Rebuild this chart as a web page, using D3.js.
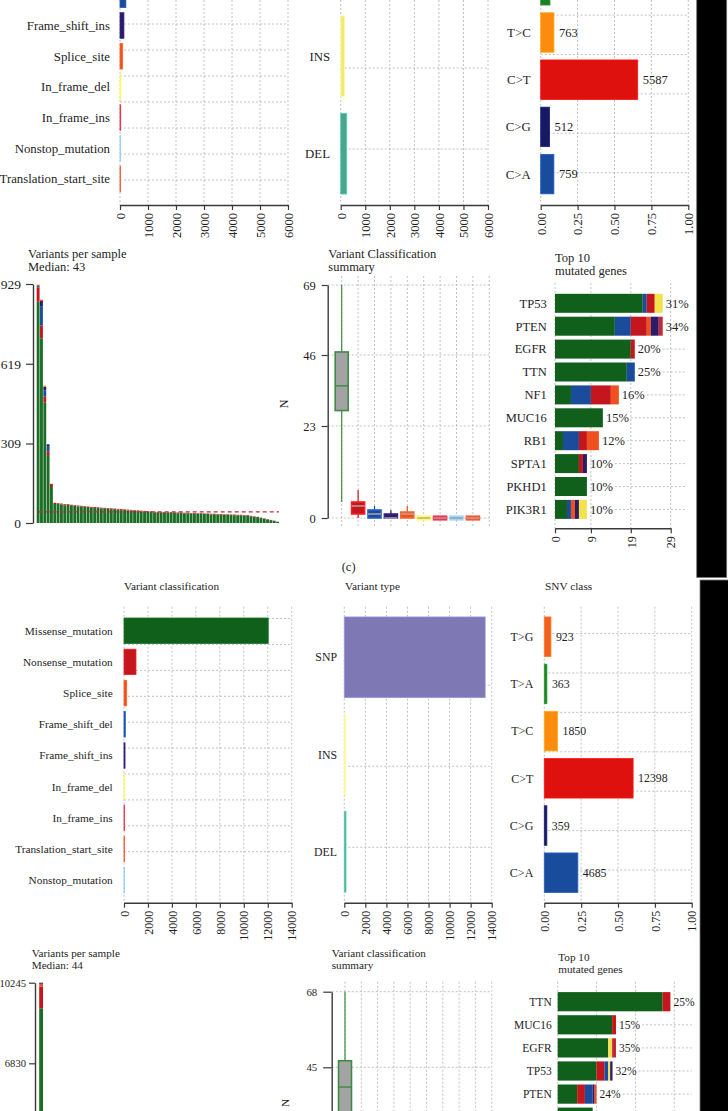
<!DOCTYPE html>
<html><head><meta charset="utf-8">
<script src="https://cdn.jsdelivr.net/npm/d3@7"></script>
<style>
html,body{margin:0;padding:0;background:#fff;}
svg{display:block;}
text{font-family:"Liberation Serif","Times New Roman",serif;fill:#1e1e1e;}
</style></head><body>
<svg id="c" width="728" height="1111"></svg>
<script>
// ================= DATA =================
// ---- upper cohort ----
const vcCats1 = ["Missense_mutation","Nonsense_mutation","Frame_shift_del","Frame_shift_ins","Splice_site","In_frame_del","In_frame_ins","Nonstop_mutation","Translation_start_site"];
const vcVals1 = [5600, 420, 210, 140, 95, 30, 25, 5, 8];
const vtCats = ["SNP","INS","DEL"];
const vtVals1 = [8460, 160, 245];
const snvCats = ["T>G","T>A","T>C","C>T","C>G","C>A"];
const snvVals1 = [344, 535, 763, 5587, 512, 759];
const axTicks6000 = [0,1000,2000,3000,4000,5000,6000];
const axTicksFrac = [0,0.25,0.5,0.75,1];

const vpsTicks1 = [0,309,619,929];
const vpsMedian1 = 43;
const vpsTotal1 = [929,868,536,306,152,79,77,76,74,73,71,70,68,67,66,64,63,62,61,60,59,58,57,56,55,54,53,52,51,50,49,48,47,46,45,44,43,43,43,42,42,42,41,41,40,40,39,39,38,38,37,37,36,36,35,35,34,34,33,33,32,32,31,31,28,26,24,21,18,15,12,9,5];
const vpsNonsense1 = [55,50,22,15,12,4,3,3,4,3,2,3,4,3,3,2,3,4,3,3,2,3,3,2,3,4,2,3,3,2,3,3,2,3,2,3,3,2,3,2,3,2,3,2,3,2,2,3,2,3,2,2,3,2,2,3,2,2,2,3,2,2,2,2,2,2,1,2,1,1,1,1,1];
const vpsFsDel1 = [6,75,25,20];
const vpsFsIns1 = [0,20,15,7];
const vpsSplice1 = [4,5,0,0,0,1,0,1,1,0,0,1,0,0,1,0,1,0,0,1];
const vpsIfDel1 = [4,0,5,0];

const boxCats = ["Missense_mutation","Nonsense_mutation","Frame_shift_del","Frame_shift_ins","Splice_site","In_frame_del","In_frame_ins","Nonstop_mutation","Translation_start_site"];
const boxTicks1 = [0,23,46,69];
const boxMin1 = [4,0,0,0,0,0,0,0,0];
const boxQ1_1 = [28,1,0,0,0,0,0,0,0];
const boxMed1 = [36,3,1,0,1,0,0,0,0];
const boxQ3_1 = [47,4,2,1,1.5,0,0,0,0];
const boxMax1 = [69,7,3,2,3,0,0,0,0];

const genes1 = ["TP53","PTEN","EGFR","TTN","NF1","MUC16","RB1","SPTA1","PKHD1","PIK3R1"];
const genePct1 = ["31%","34%","20%","25%","16%","15%","12%","10%","10%","10%"];
const geneMissense1 = [22,15,19,18,4,12,2,6,8,3];
const geneFsDel1    = [1,4,0,2,5,0,4,0,0,1];
const geneNonsense1 = [2,4,1,0,5,0,2,1,0,0];
const geneSplice1   = [0,1,0,0,2,0,3,0,0,1];
const geneFsIns1    = [0,2,0,0,0,0,0,1,0,1];
const geneIfIns1    = [0,1,0,0,0,0,0,0,0,0];
const geneIfDel1    = [2,0,0,0,0,0,0,0,0,2];
const geneTicks1 = [0,9,19,29];

// ---- lower cohort ----
const vcCats2 = ["Missense_mutation","Nonsense_mutation","Splice_site","Frame_shift_del","Frame_shift_ins","In_frame_del","In_frame_ins","Translation_start_site","Nonstop_mutation"];
const vcVals2 = [12040, 1000, 225, 110, 85, 25, 15, 10, 8];
const vtVals2 = [13380, 120, 160];
const snvVals2 = [923, 363, 1850, 12398, 359, 4685];
const axTicks14000 = [0,2000,4000,6000,8000,10000,12000,14000];

const vpsTicks2 = [0,3415,6830,10245];
const vpsMedian2 = 44;
const vpsTotal2 = [10245,4120,2950,1710,980,610,420,300,230,180,150,130,115,102,95,88,82,77,73,69,66,63,60,57,55,53,51,49,47,45,44,43,42,41,40,39,38,37,36,35,34,33,32,31,30,29,28,27,26,25,24,23,22,20,18,16,14,12,9,6];
const vpsNonsense2 = [915];
const vpsSplice2 = [125];
const vpsFsIns2 = [45];

const boxTicks2 = [0,22,45,68];
const boxMin2 = [3,0,0,0,0,0,0,0,0];
const boxQ1_2 = [27,1,0,0,0,0,0,0,0];
const boxMed2 = [39,2,1,0,0,0,0,0,0];
const boxQ3_2 = [47,4,2,1,1,0,0,0,0];
const boxMax2 = [68,8,4,2,2,0,0,0,0];

const genes2 = ["TTN","MUC16","EGFR","TP53","PTEN","NF1"];
const genePct2 = ["25%","15%","35%","32%","24%","22%"];
const geneMissense2 = [27,14,13,10,5,9];
const geneNonsense2 = [2,1,0,2,2,0];
const geneFsDel2    = [0,0,0,1,2,0];
const geneIfDel2    = [0,0,1,0.5,0,0];
const geneIfIns2    = [0,0,1,0,0,0];
const geneFsIns2    = [0,0,0,0.6,0.5,0];
const geneSplice2   = [0,0,0,0,0.5,0];
const geneTicks2 = [0,10,20,30];

// ================= STYLE =================
const VC = {
  Missense_mutation:"#10601c", Nonsense_mutation:"#c5161d", Frame_shift_del:"#1b4c9c",
  Frame_shift_ins:"#2c1b68", Splice_site:"#f0501e", In_frame_del:"#f2e24c",
  In_frame_ins:"#c0283c", Nonstop_mutation:"#76aad8", Translation_start_site:"#ee4424"
};
const VT = {SNP:"#7e79b5", INS:"#f2ea78", DEL:"#47a68d"};
const SNVC = {"T>G":"#f2601c","T>A":"#1f7f26","T>C":"#fd8c0e","C>T":"#df110f","C>G":"#161a62","C>A":"#1a4c9e"};
const SERIF = "'Liberation Serif','Times New Roman',serif";
const GRID = "#b3b3b3";
const AXC = "#3a3a3a";

const svg = d3.select("#c");

function title(lines, x, y0, lh, size){
  const t = svg.append("text").attr("x",x).attr("y",y0).style("font-size",size+"px");
  lines.forEach((l,i)=> t.append("tspan").attr("x",x).attr("y",y0+i*lh).text(l));
}
function styleAxis(ax, size){
  ax.attr("font-family",SERIF);
  ax.select(".domain").attr("stroke",AXC).attr("stroke-width",1.4);
  ax.selectAll(".tick line").attr("stroke",AXC).attr("stroke-width",1.2);
  ax.selectAll(".tick text").attr("fill","#1e1e1e").style("font-size",size+"px");
}
function bottomAxis(g, x, ticks, fmt, y, size){
  const ax = g.append("g").attr("transform",`translate(0,${y})`)
    .call(d3.axisBottom(x).tickValues(ticks).tickFormat(fmt).tickSize(5).tickSizeOuter(0));
  styleAxis(ax,size);
  ax.selectAll(".tick text").attr("transform","rotate(-90)").attr("text-anchor","end")
    .attr("x",-8).attr("y",0).attr("dy","0.35em");
}

// ---------- horizontal bar panel ----------
function hbar(o){
  const g = svg.append("g");
  const x = d3.scaleLinear().domain([0,o.xmax]).range([o.x0,o.x1]);
  const p = 1 - o.bw/o.step;
  const y = d3.scaleBand().domain(o.cats)
    .range([o.c0 - o.step/2, o.c0 - o.step/2 + o.cats.length*o.step]).paddingInner(p).paddingOuter(p/2);
  const grid = g.append("g").attr("stroke",GRID).attr("stroke-width",0.8).attr("stroke-dasharray","2,2");
  grid.selectAll(null).data(o.ticks).join("line").attr("x1",d=>x(d)).attr("x2",d=>x(d)).attr("y1",o.vTop).attr("y2",o.axisY);
  grid.selectAll(null).data(d3.range(o.gridN)).join("line").attr("x1",o.x0).attr("x2",o.x1)
    .attr("y1",i=>o.gBottom-i*o.gStep).attr("y2",i=>o.gBottom-i*o.gStep);
  const denom = o.frac ? d3.sum(o.vals) : 1;
  g.selectAll(null).data(o.cats).join("rect")
    .attr("x",x(0)).attr("y",d=>y(d)).attr("height",y.bandwidth())
    .attr("width",(d,i)=>Math.max(0.5, x(o.vals[i]/denom)-x(0)))
    .attr("fill",d=>o.col[d]).attr("stroke",d=>d3.color(o.col[d]).brighter(0.6)).attr("stroke-width",0.8);
  g.selectAll(null).data(o.cats).join("text").attr("x",o.labelX).attr("y",d=>y(d)+y.bandwidth()/2)
    .attr("dy","0.35em").attr("text-anchor","end").style("font-size",o.fs+"px").text(d=>d);
  if(o.valueLabels){
    g.selectAll(null).data(o.cats).join("text").attr("x",(d,i)=>x(o.vals[i]/denom)+5).attr("y",d=>y(d)+y.bandwidth()/2)
      .attr("dy","0.35em").style("font-size",o.vfs+"px").text((d,i)=>o.vals[i]);
  }
  bottomAxis(g, x, o.ticks, o.fmt, o.axisY, o.tfs);
}

// ---------- variants per sample ----------
function vps(o){
  const n = o.total.length;
  const keys = o.order;
  const rows = o.total.map((t,i)=>{
    const r = {i};
    let s = 0;
    Object.entries(o.parts).forEach(([k,arr])=>{ r[k] = arr[i]||0; s += r[k]; });
    r.Missense_mutation = t - s;
    keys.forEach(k=>{ if(r[k]===undefined) r[k]=0; });
    return r;
  });
  const series = d3.stack().keys(keys)(rows);
  const x = d3.scaleBand().domain(d3.range(n)).range([o.xa,o.xb]).paddingInner(o.pad);
  const y = d3.scaleLinear().domain([0,o.ymax]).range([o.y0,o.yTop]);
  const g = svg.append("g");
  series.forEach(s=>{
    g.selectAll(null).data(s).join("rect")
      .attr("x",d=>x(d.data.i)).attr("width",x.bandwidth())
      .attr("y",d=>y(d[1])).attr("height",d=>Math.max(0,y(d[0])-y(d[1])))
      .attr("fill",s.key==="Missense_mutation" ? "#1c6e26" : VC[s.key]);
  });
  g.append("line").attr("x1",o.xa+2).attr("x2",o.xb).attr("y1",y(o.median)).attr("y2",y(o.median))
    .attr("stroke","#b8323a").attr("stroke-width",1.2).attr("stroke-dasharray","4,3");
  const ax = g.append("g").attr("transform",`translate(${o.axisX},0)`)
    .call(d3.axisLeft(y).tickValues(o.ticks).tickFormat(d3.format("d")).tickSize(o.tickLen).tickPadding(o.tickPad).tickSizeOuter(0));
  styleAxis(ax, o.tfs);
  title(["Variants per sample","Median: "+o.median], o.tx, o.ty, o.lh, o.hfs);
  svg.append("text").attr("transform",`translate(${o.nx},${o.ny}) rotate(-90)`).attr("text-anchor","middle")
    .attr("dy","0.35em").style("font-size",o.hfs+"px").text("N");
}

// ---------- summary boxplot ----------
function boxplot(o){
  const g = svg.append("g");
  const x = d3.scaleLinear().domain([1,10]).range([o.xc1,o.xc10]);
  const y = d3.scaleLinear().domain(o.ticks).range(o.tickPos);
  const grid = g.append("g").attr("stroke",GRID).attr("stroke-width",0.8).attr("stroke-dasharray","2,2");
  grid.selectAll(null).data(d3.range(1,11)).join("line").attr("x1",d=>x(d)).attr("x2",d=>x(d)).attr("y1",o.vTop).attr("y2",o.vBot);
  grid.selectAll(null).data(o.ticks).join("line").attr("x1",o.axisX).attr("x2",o.xc10).attr("y1",d=>y(d)).attr("y2",d=>y(d));
  const w = 13;
  o.cats.forEach((c,i)=>{
    const cx = x(i+1);
    const miss = c==="Missense_mutation";
    const col = VC[c];
    const line = miss ? "#3d8a43" : col;
    g.append("line").attr("x1",cx).attr("x2",cx).attr("y1",y(o.max[i])).attr("y2",y(o.min[i]))
      .attr("stroke",line).attr("stroke-width",1.2);
    let yt = y(o.q3[i]), yb = y(o.q1[i]);
    if(yb-yt < 3.6){ const m=(yt+yb)/2; yt=m-1.8; yb=m+1.8; }
    g.append("rect").attr("x",cx-w/2).attr("width",w).attr("y",yt).attr("height",yb-yt)
      .attr("fill", miss ? "#a3a3a3" : col)
      .attr("stroke", miss ? "#3d8a43" : d3.color(col).brighter(0.7)).attr("stroke-width",1.6);
    g.append("line").attr("x1",cx-w/2).attr("x2",cx+w/2).attr("y1",y(o.med[i])).attr("y2",y(o.med[i]))
      .attr("stroke", miss ? "#3d8a43" : "#b9a9a9").attr("stroke-width",1.4);
  });
  const ax = g.append("g").attr("transform",`translate(${o.axisX},0)`)
    .call(d3.axisLeft(y).tickValues(o.ticks).tickFormat(d3.format("d")).tickSize(o.tickLen).tickPadding(o.tickPad).tickSizeOuter(0));
  styleAxis(ax, o.tfs);
  title(o.title, o.tx, o.ty, o.lh, o.hfs);
}

// ---------- top 10 genes ----------
function top10(o){
  const g = svg.append("g");
  const keys = o.parts.map(p=>p[0]);
  const rows = o.genes.map((gn,i)=>{ const r={gene:gn}; o.parts.forEach(([k,arr])=> r[k]=arr[i]); return r; });
  const series = d3.stack().keys(keys)(rows);
  const x = d3.scaleLinear().domain([0,o.xmax]).range([o.x0,o.x1]);
  const p = 1 - o.bw/o.step;
  const y = d3.scaleBand().domain(o.genes)
    .range([o.c0 - o.step/2, o.c0 - o.step/2 + o.genes.length*o.step]).paddingInner(p).paddingOuter(p/2);
  const grid = g.append("g").attr("stroke",GRID).attr("stroke-width",0.8).attr("stroke-dasharray","2,2");
  grid.selectAll(null).data(o.ticks).join("line").attr("x1",d=>x(d)).attr("x2",d=>x(d)).attr("y1",o.vTop).attr("y2",o.vBot);
  series.forEach(s=>{
    g.selectAll(null).data(s).join("rect")
      .attr("y",d=>y(d.data.gene)).attr("height",y.bandwidth())
      .attr("x",d=>x(d[0])).attr("width",d=>Math.max(0,x(d[1])-x(d[0])))
      .attr("fill",VC[s.key]);
  });
  g.selectAll(null).data(o.genes).join("text").attr("x",o.labelX).attr("y",d=>y(d)+y.bandwidth()/2)
    .attr("dy","0.35em").attr("text-anchor","end").style("font-size",o.fs+"px").text(d=>d);
  const totals = rows.map(r=>d3.sum(keys,k=>r[k]));
  const pl = g.selectAll(null).data(o.genes).join("text").attr("x",(d,i)=>x(totals[i])+3).attr("y",d=>y(d)+y.bandwidth()/2)
    .attr("dy","0.35em").style("font-size",o.fs+"px").text((d,i)=>o.pct[i]);
  pl.each(function(d,i){
    const end = x(totals[i])+3+this.getComputedTextLength()+2;
    if(end < o.gRight) grid.append("line").attr("x1",end).attr("x2",o.gRight).attr("y1",y(d)+y.bandwidth()/2).attr("y2",y(d)+y.bandwidth()/2);
  });
  if(o.axisY) bottomAxis(g, x, o.ticks, d3.format("d"), o.axisY, 12);
  title(["Top 10","mutated genes"], o.tx, o.ty, o.lh, o.hfs);
}

// ================= DRAW =================
// --- upper row 1 ---
hbar({cats:vcCats1, vals:vcVals1, col:VC, x0:120, x1:288, xmax:6000, ticks:axTicks6000, fmt:d3.format("d"),
  axisY:205, c0:-66.6, step:30.7, bw:25.6, gBottom:180, gStep:26, gridN:11, vTop:-20, labelX:110, fs:12.8, tfs:12.5});
hbar({cats:vtCats, vals:vtVals1, col:VT, x0:340.7, x1:488, xmax:6000, ticks:axTicks6000, fmt:d3.format("d"),
  axisY:205, c0:-41.1, step:97.4, bw:80.7, gBottom:149, gStep:81, gridN:3, vTop:-20, labelX:330, fs:12.8, tfs:12.5});
hbar({cats:snvCats, vals:snvVals1, col:SNVC, frac:true, x0:540.7, x1:688.3, xmax:1, ticks:axTicksFrac, fmt:d3.format(".2f"),
  axisY:205, c0:-61.9, step:47.2, bw:39.5, gBottom:172.7, gStep:39.4, gridN:6, vTop:-20, labelX:530.7, valueLabels:true, fs:12.8, vfs:12.5, tfs:12.5});

// --- upper row 2 ---
vps({total:vpsTotal1, parts:{Nonsense_mutation:vpsNonsense1, Frame_shift_del:vpsFsDel1, Frame_shift_ins:vpsFsIns1, Splice_site:vpsSplice1, In_frame_del:vpsIfDel1},
  order:["Missense_mutation","Nonsense_mutation","Frame_shift_del","Frame_shift_ins","Splice_site","In_frame_del"],
  xa:36.7, xb:279, pad:0.14, ymax:929, y0:523, yTop:284, median:vpsMedian1, ticks:vpsTicks1,
  axisX:33, tickLen:7, tickPad:5, tfs:13.5, tx:28, ty:258, lh:13, hfs:12.5, nx:283.5, ny:404});
boxplot({cats:boxCats, min:boxMin1, q1:boxQ1_1, med:boxMed1, q3:boxQ3_1, max:boxMax1,
  ticks:boxTicks1, tickPos:[518,426,355,285],
  xc1:341.7, xc10:489.3, axisX:327.7, tickLen:6, tickPad:6, tfs:12.5, vTop:276, vBot:527,
  title:["Variant Classification","summary"], tx:328.3, ty:258, lh:12.5, hfs:12.5});
top10({genes:genes1, pct:genePct1, parts:[["Missense_mutation",geneMissense1],["Frame_shift_del",geneFsDel1],["Nonsense_mutation",geneNonsense1],
  ["Splice_site",geneSplice1],["Frame_shift_ins",geneFsIns1],["In_frame_ins",geneIfIns1],["In_frame_del",geneIfDel1]],
  x0:555, x1:670.7, xmax:29, ticks:geneTicks1, c0:303.3, step:22.9, bw:19, labelX:546.7, vTop:283, vBot:528.3,
  gRight:686.7, axisY:528.3, tx:555, ty:262, lh:13, hfs:12.5, fs:12.5});

svg.append("text").attr("x",341.7).attr("y",571).style("font-size","12.5px").text("(c)");

// --- lower row 1 ---
hbar({cats:vcCats2, vals:vcVals2, col:VC, x0:124, x1:291.7, xmax:14000, ticks:axTicks14000, fmt:d3.format("d"),
  axisY:902.7, c0:630.7, step:31.2, bw:25.4, gBottom:851.7, gStep:25.9, gridN:10, vTop:606.7, labelX:112.7, fs:11.3, tfs:12});
hbar({cats:vtCats, vals:vtVals2, col:VT, x0:344.3, x1:491.7, xmax:14000, ticks:axTicks14000, fmt:d3.format("d"),
  axisY:902.7, c0:657.3, step:97.2, bw:80.7, gBottom:847.3, gStep:81, gridN:3, vTop:606.7, labelX:337, fs:11.8, tfs:12});
hbar({cats:snvCats, vals:snvVals2, col:SNVC, frac:true, x0:544.3, x1:691.7, xmax:1, ticks:axTicksFrac, fmt:d3.format(".2f"),
  axisY:902.7, c0:636.7, step:47.2, bw:39.5, gBottom:870, gStep:39.4, gridN:7, vTop:606.7, labelX:533.3, valueLabels:true, fs:12, vfs:11.8, tfs:12});
title(["Variant classification"],124,590,13,11.3);
title(["Variant type"],345,590,13,11.3);
title(["SNV class"],545,590,13,11.3);

// --- lower row 2 ---
vps({total:vpsTotal2, parts:{Nonsense_mutation:vpsNonsense2, Splice_site:vpsSplice2, Frame_shift_ins:vpsFsIns2},
  order:["Missense_mutation","Nonsense_mutation","Splice_site","Frame_shift_ins"],
  xa:39.2, xb:281.6, pad:0.05, ymax:10245, y0:1224.5, yTop:982.7, median:vpsMedian2, ticks:vpsTicks2,
  axisX:35, tickLen:6, tickPad:3, tfs:10.6, tx:31.7, ty:957, lh:11.8, hfs:11.2, nx:285, ny:1103});
boxplot({cats:boxCats, min:boxMin2, q1:boxQ1_2, med:boxMed2, q3:boxQ3_2, max:boxMax2,
  ticks:boxTicks2, tickPos:[1237,1143,1067.3,991.7],
  xc1:345, xc10:491.7, axisX:331.7, tickLen:8.5, tickPad:6, tfs:10.8, vTop:981.7, vBot:1240,
  title:["Variant classification","summary"], tx:331.7, ty:957, lh:11.8, hfs:11.2});
top10({genes:genes2, pct:genePct2, parts:[["Missense_mutation",geneMissense2],["Nonsense_mutation",geneNonsense2],["Frame_shift_del",geneFsDel2],
  ["In_frame_del",geneIfDel2],["In_frame_ins",geneIfIns2],["Frame_shift_ins",geneFsIns2],["Splice_site",geneSplice2]],
  x0:557.7, x1:674.3, xmax:30, ticks:geneTicks2, c0:1001.7, step:23.1, bw:19.2, labelX:551.7, vTop:981.7, vBot:1130,
  gRight:691.7, axisY:null, tx:558.3, ty:961, lh:12, hfs:11.2, fs:11.5});

// --- side strips ---
svg.append("rect").attr("x",696.7).attr("y",-2).attr("width",30).attr("height",579.5).attr("fill","#000").attr("stroke","#777").attr("stroke-width",0.8);
svg.append("rect").attr("x",700).attr("y",580).attr("width",29).attr("height",533).attr("fill","#000").attr("stroke","#777").attr("stroke-width",0.8);

// texts lying beyond the top/bottom edge of the figure are not part of the visible picture
svg.selectAll("text").each(function(){
  const b = this.getBoundingClientRect();
  if(b.top < -0.5 || b.bottom > 1111.5) this.remove();
});
</script>
</body></html>
